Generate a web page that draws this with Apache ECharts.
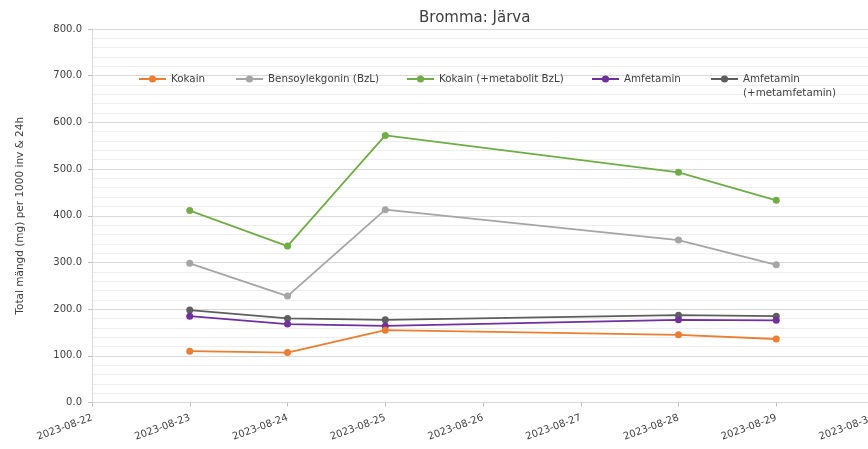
<!DOCTYPE html>
<html>
<head>
<meta charset="utf-8">
<script src="https://cdn.jsdelivr.net/npm/echarts@6/dist/echarts.min.js"></script>
<style>
  html, body { margin: 0; padding: 0; background: #fff; }
  #chart { width: 868px; height: 449px; }
</style>
</head>
<body>
<div id="chart"></div>
<script>
// axis days (category ticks) and sampled days
const days = ['2023-08-22', '2023-08-23', '2023-08-24', '2023-08-25', '2023-08-26',
  '2023-08-27', '2023-08-28', '2023-08-29', '2023-08-30'];
const sampleDays = ['2023-08-23', '2023-08-24', '2023-08-25', '2023-08-28', '2023-08-29'];

const seriesNames = ['Kokain', 'Bensoylekgonin (BzL)', 'Kokain (+metabolit BzL)', 'Amfetamin', 'Amfetamin (+metamfetamin)'];
const kokain = [110, 107, 155, 145, 136];
const bensoylekgonin = [298, 228, 413, 348, 295];
const kokainMetabolit = [411, 335, 572, 493, 433];
const amfetamin = [185, 168, 164, 177, 176];
const amfetaminMet = [198, 180, 177, 187, 185];

const colors = ['#ED7D31', '#A5A5A5', '#70AD47', '#7030A0', '#5E5E5E'];
const allValues = [kokain, bensoylekgonin, kokainMetabolit, amfetamin, amfetaminMet];

// legend item left positions
const legendLeft = [138, 235, 406, 591, 710];

const font = '"DejaVu Sans", sans-serif';
const chart = echarts.init(document.getElementById('chart'));

const series = seriesNames.map((name, i) => ({
  name,
  type: 'line',
  data: sampleDays.map((d, j) => [d, allValues[i][j]]),
  symbol: 'circle',
  symbolSize: 7,
  lineStyle: { width: 1.8, color: colors[i] },
  itemStyle: { color: colors[i] },
  z: 10 - i
}));

const legends = seriesNames.map((name, i) => ({
  data: [name],
  left: legendLeft[i],
  top: i === 4 ? 58 : 72,
  itemWidth: 27,
  itemHeight: 9,
  itemGap: 0,
  padding: 0,
  formatter: i === 4 ? ' \nAmfetamin\n(+metamfetamin)' : '{name}',
  textStyle: {
    fontSize: 10.3,
    fontFamily: font,
    color: '#404040',
    lineHeight: 14
  }
}));

chart.setOption({
  animation: false,
  color: colors,
  title: {
    text: 'Bromma: Järva',
    left: 414,
    top: 6,
    textStyle: { fontSize: 15, fontWeight: 'normal', color: '#404040', fontFamily: font }
  },
  legend: legends,
  grid: { left: 92, right: -6, top: 29, bottom: 46.5, containLabel: false, outerBoundsMode: 'none' },
  xAxis: {
    type: 'category',
    data: days,
    boundaryGap: false,
    axisLine: { lineStyle: { color: '#d9d9d9' } },
    axisTick: { show: true, length: 4, lineStyle: { color: '#bfbfbf' } },
    axisLabel: {
      rotate: 20,
      fontSize: 10,
      fontFamily: font,
      color: '#404040',
      margin: 15,
      interval: 0
    },
    splitLine: { show: false }
  },
  yAxis: {
    type: 'value',
    min: 0,
    max: 800,
    interval: 100,
    name: 'Total mängd (mg) per 1000 inv & 24h',
    nameLocation: 'middle',
    nameGap: 66,
    nameRotate: 90,
    nameTextStyle: { fontSize: 10.5, fontFamily: font, color: '#404040' },
    axisLine: { show: true, lineStyle: { color: '#d9d9d9' } },
    axisTick: { show: true, length: 4, lineStyle: { color: '#bfbfbf' } },
    axisLabel: {
      formatter: v => v.toFixed(1),
      fontSize: 10,
      fontFamily: font,
      color: '#404040',
      margin: 10
    },
    splitLine: { show: true, lineStyle: { color: '#d9d9d9', width: 1 } },
    minorTick: { show: false, splitNumber: 5 },
    minorSplitLine: { show: true, lineStyle: { color: '#eeeeee', width: 1 } }
  },
  series
});
</script>
</body>
</html>
